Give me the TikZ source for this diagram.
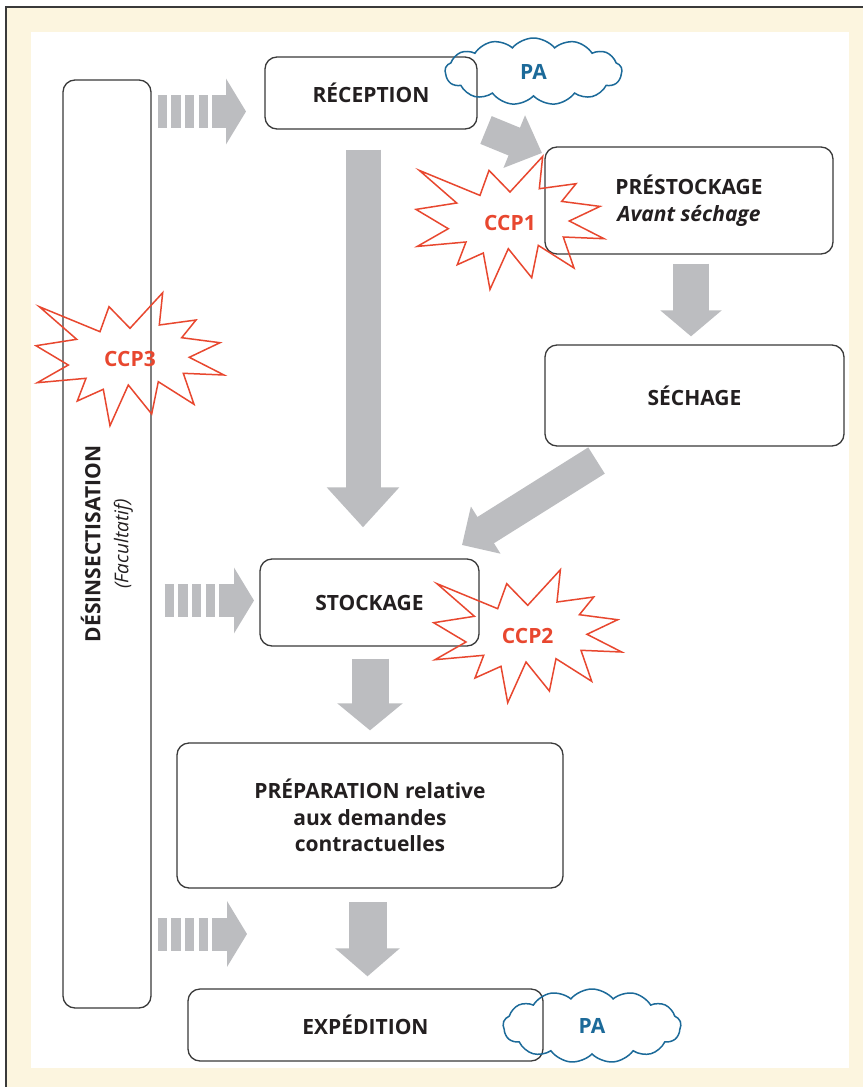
\documentclass[tikz,border=0pt]{standalone}
\usepackage{fontspec}
\setmainfont{Open Sans}
\usetikzlibrary{arrows.meta,shapes.symbols}
\definecolor{cream}{HTML}{FCF5DF}
\definecolor{arrowgray}{HTML}{BCBDC0}
\definecolor{ccpred}{HTML}{E8472F}
\definecolor{pablue}{HTML}{1C6A99}
\definecolor{ink}{HTML}{231F20}
\definecolor{frameline}{HTML}{3A3A3A}
\tikzset{
  box/.style={draw=frameline, line width=1.3pt, rounded corners=12pt, fill=none,
    inner sep=0pt, align=center, text=ink, font=\fontsize{21}{26.5}\selectfont\bfseries},
  blk/.style n args={3}{draw=arrowgray, line width=#1pt, -{Triangle[width=#2pt, length=#3pt]}},
  stripearrow/.style={draw=arrowgray, line width=33pt,
    dash pattern=on 9pt off 4.5pt on 9.5pt off 4.5pt on 9pt off 4.5pt on 9pt off 4.5pt on 300pt,
    -{Triangle[width=65pt, length=20pt]}},
  starline/.style={draw=ccpred, line width=1.5pt, line join=miter, miter limit=20},
  ccptext/.style={text=ccpred, font=\fontsize{21}{24}\selectfont\bfseries, inner sep=0pt},
  pacloud/.style={cloud, draw=pablue, line width=1.5pt, cloud puffs=13, cloud puff arc=100,
    cloud ignores aspect, inner sep=0pt, text=pablue, font=\fontsize{21}{24}\selectfont\bfseries},
}
\newcommand\ccpburst[1]{%
  \draw[starline, shift={(#1)}] (32.7,-66.3) -- (29.3,-34) -- (66,-39) -- (51.7,-21.3) --
    (90,-16.3) -- (59.3,-1.7) -- (94,16) -- (53.3,14.3) -- (64,45.3) -- (28.3,22.7) --
    (21.7,55) -- (-1.7,26) -- (-20,66.7) -- (-26.7,30.3) -- (-52.7,42) -- (-44,19.3) --
    (-92.7,23.7) -- (-61.7,6) -- (-94,-13.3) -- (-53.3,-19.7) -- (-90.7,-52.3) --
    (-30,-27.3) -- (-21,-52.3) -- (0,-30.7) -- cycle;}
\begin{document}
\begin{tikzpicture}[x=1pt,y=-1pt]
\useasboundingbox (0,0) rectangle (863,1087);
% frame
\fill[white] (0,0) rectangle (863,1087);
\fill[cream] (6,7) rectangle (863,1087);
\fill[white] (31,32) rectangle (849,1068);
\draw[frameline, line width=1.3pt] (6,1087) -- (6,7) -- (863,7);

% boxes
\node[box, minimum width=88pt, minimum height=928pt] (desins) at (107,544) {};
\node[rotate=90, align=center, text=ink, inner sep=0pt,
  font=\fontsize{21}{28}\selectfont] (desinslabel) at (desins.center)
  {\bfseries DÉSINSECTISATION\\
   \fontsize{19}{28}\selectfont\itshape (Facultatif)};
\node[box, minimum width=212pt, minimum height=72pt] (recep) at (371,93) {RÉCEPTION};
\node[box, minimum width=288pt, minimum height=107pt] (prest) at (689,200.5)
  {PRÉSTOCKAGE\\\itshape Avant séchage};
\node[box, minimum width=299pt, minimum height=101pt] (sech) at (694.5,395.5) {SÉCHAGE};
\node[box, minimum width=219pt, minimum height=87pt] (stock) at (369.5,602.5) {STOCKAGE};
\node[box, minimum width=386pt, minimum height=145pt] (prep) at (370,815.5)
  {PRÉPARATION relative\\aux demandes\\contractuelles};
\node[box, minimum width=355pt, minimum height=72pt] (exped) at (365.5,1025) {EXPÉDITION};

% clouds
\node[pacloud, minimum width=177pt, minimum height=67pt] (pa1) at (533.5,71.5) {PA};
\node[pacloud, minimum width=178pt, minimum height=74pt] (pa2) at (592,1026) {PA};

% bursts
\node[ccptext] (ccp1) at (510,222.7) {CCP1};
\node[ccptext] (ccp2) at (527.7,636) {CCP2};
\node[ccptext] (ccp3) at (130,359) {CCP3};
\ccpburst{ccp1}
\ccpburst{ccp2}
\ccpburst{ccp3}

% block arrows
\coordinate (ax1) at (363,0);
\coordinate (ax3) at (691,0);
\coordinate (ax5) at (370,0);
\coordinate (ax6) at (367.5,0);
\draw[blk={35}{70}{40}, shorten <=20pt, shorten >=31pt] (recep.south -| ax1) -- (stock.north -| ax1);
\draw[blk={36}{60}{26}, shorten <=9pt, shorten >=8pt] (prest.south -| ax3) -- (sech.north -| ax3);
\draw[blk={37}{64}{27}, shorten <=12pt, shorten >=12pt] (stock.south -| ax5) -- (prep.north -| ax5);
\draw[blk={38}{63}{28}, shorten <=13.7pt, shorten >=12pt] (prep.south -| ax6) -- (exped.north -| ax6);
\coordinate (d1s) at (486,130);
\coordinate (d1e) at (542,153);
\draw[blk={30}{55}{30}] (d1s) -- (d1e);
\coordinate (d2s) at (596.5,460.5);
\coordinate (d2e) at (462,545);
\draw[blk={31}{54}{28}] (d2s) -- (d2e);

% striped arrows
\coordinate (s1) at (246,111.5);
\coordinate (s2) at (254,600.5);
\coordinate (s3) at (247,934);
\draw[stripearrow, shorten <=6pt] (desins.east |- s1) -- (s1);
\draw[stripearrow, shorten <=13pt] (desins.east |- s2) -- (s2);
\draw[stripearrow, shorten <=6pt] (desins.east |- s3) -- (s3);
\end{tikzpicture}
\end{document}
